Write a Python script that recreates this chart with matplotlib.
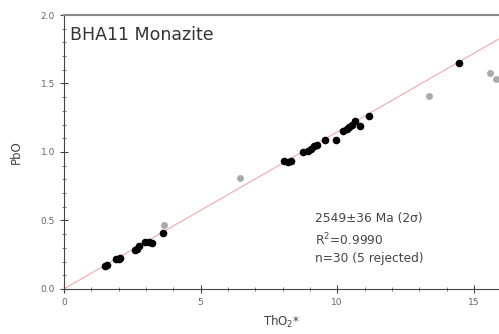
import matplotlib
matplotlib.use('Agg')
import matplotlib.pyplot as plt
from matplotlib.ticker import MultipleLocator, FormatStrFormatter

# accepted analyses (ThO2*, PbO)
tho2 = [1.50, 1.58, 1.90, 2.00, 2.05, 2.60, 2.68, 2.75, 2.95, 3.10,
        3.22, 3.62, 8.05, 8.20, 8.30, 8.75, 8.95, 9.05, 9.15, 9.25,
        9.55, 9.95, 10.20, 10.35, 10.45, 10.55, 10.65, 10.85, 11.15, 14.45]
pbo = [0.170, 0.175, 0.215, 0.220, 0.225, 0.285, 0.295, 0.310, 0.340, 0.345,
       0.335, 0.410, 0.935, 0.930, 0.935, 1.000, 1.005, 1.020, 1.040, 1.050,
       1.090, 1.090, 1.150, 1.170, 1.180, 1.200, 1.225, 1.190, 1.260, 1.650]

# rejected analyses
tho2_rej = [3.65, 6.45, 13.35, 15.60, 15.80]
pbo_rej = [0.47, 0.81, 1.41, 1.58, 1.53]

# isochron slope through origin
slope = 0.1147
line_x = [0, 16]


def main():
    fig = plt.figure(figsize=(4.99, 3.34), dpi=100)
    ax = fig.add_axes([0.128, 0.135, 0.872, 0.82])

    ax.plot(line_x, [slope * v for v in line_x], color='#f2a8b0', lw=0.8, zorder=1)
    ax.plot(tho2_rej, pbo_rej, 'o', color='#aaaaaa', markersize=5, mec='none', zorder=2)
    ax.plot(tho2, pbo, 'o', color='black', markersize=5.5, mec='none', zorder=3)

    ax.set_xlim(0, 15.92)
    ax.set_ylim(0, 2.0)
    ax.xaxis.set_major_locator(MultipleLocator(5))
    ax.xaxis.set_minor_locator(MultipleLocator(1))
    ax.yaxis.set_major_locator(MultipleLocator(0.5))
    ax.yaxis.set_minor_locator(MultipleLocator(0.1))
    ax.yaxis.set_major_formatter(FormatStrFormatter('%.1f'))

    ax.tick_params(which='major', direction='inout', length=6, width=0.8,
                   labelsize=6.5, labelcolor='#666666', color='#444444')
    ax.tick_params(which='minor', direction='inout', length=3, width=0.6, color='#666666')

    ax.spines['right'].set_visible(False)
    ax.spines['top'].set_color('#888888')
    ax.spines['top'].set_linewidth(1.5)
    ax.spines['left'].set_color('#444444')
    ax.spines['bottom'].set_color('#444444')

    ax.set_xlabel('ThO$_2$*', fontsize=8.5, color='#444444', labelpad=5)
    ax.set_ylabel('PbO', fontsize=8.5, color='#444444', labelpad=13)

    ax.text(0.014, 0.96, 'BHA11 Monazite', transform=ax.transAxes,
            fontsize=12.5, color='#333333', va='top', ha='left')
    ax.text(0.577, 0.28, '2549\u00b136 Ma (2\u03c3)\nR$^2$=0.9990\nn=30 (5 rejected)',
            transform=ax.transAxes, fontsize=8.8, color='#444444',
            va='top', ha='left', linespacing=1.45)

    plt.savefig('out.png', dpi=100)


if __name__ == "__main__":
    main()
